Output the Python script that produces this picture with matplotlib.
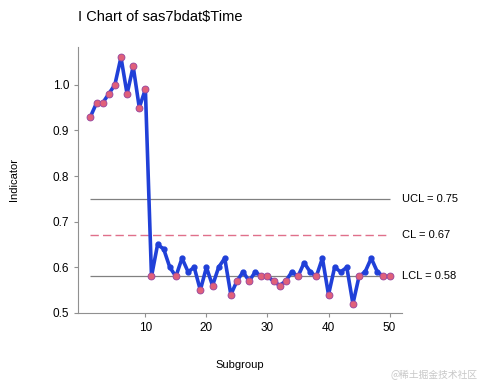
import numpy as np
import matplotlib
matplotlib.use("Agg")
import matplotlib.pyplot as plt

# I chart data
subgroup = np.arange(1, 51)
values = [0.93, 0.96, 0.96, 0.98, 1.00, 1.06, 0.98, 1.04, 0.95, 0.99,
          0.58, 0.65, 0.64, 0.60, 0.58, 0.62, 0.59, 0.60, 0.55, 0.60,
          0.56, 0.60, 0.62, 0.54, 0.57, 0.59, 0.57, 0.59, 0.58, 0.58,
          0.57, 0.56, 0.57, 0.59, 0.58, 0.61, 0.59, 0.58, 0.62, 0.54,
          0.60, 0.59, 0.60, 0.52, 0.58, 0.59, 0.62, 0.59, 0.58, 0.58]
UCL = 0.75
CL = 0.67
LCL = 0.58

plt.rcParams['font.family'] = ['Liberation Sans', 'DejaVu Sans']

fig = plt.figure(figsize=(4.8, 3.84), dpi=100)
ax = fig.add_axes([0.163, 0.185, 0.674, 0.693])

vals = np.array(values)
ax.plot(subgroup, vals, color='#2040d8', lw=2.6, marker='o', ms=3.5, zorder=3)

# points on or outside the limits get pink markers
out = (vals <= LCL) | (vals >= UCL)
ax.plot(subgroup[out], vals[out], ls='none', marker='o', ms=5,
        mfc='#e0607a', mec='#9a4aa0', mew=0.6, zorder=4)

ax.hlines(UCL, 1, 50, color='#808080', lw=0.9, zorder=1)
ax.hlines(LCL, 1, 50, color='#808080', lw=0.9, zorder=1)
ax.hlines(CL, 1, 50, color='#e0708a', lw=1.0, linestyles=(0, (6, 3)), zorder=1)

ax.text(52, UCL, 'UCL = 0.75', va='center', ha='left', fontsize=8)
ax.text(52, CL, 'CL = 0.67', va='center', ha='left', fontsize=8)
ax.text(52, LCL, 'LCL = 0.58', va='center', ha='left', fontsize=8)

ax.set_xlim(-1, 52)
ax.set_ylim(0.5, 1.083)
ax.set_xticks([10, 20, 30, 40, 50])
ax.set_yticks([0.5, 0.6, 0.7, 0.8, 0.9, 1.0])
ax.set_yticklabels(['0.5', '0.6', '0.7', '0.8', '0.9', '1.0'])

for s in ['top', 'right']:
    ax.spines[s].set_visible(False)
for s in ['left', 'bottom']:
    ax.spines[s].set_color('#909090')
ax.tick_params(colors='#909090', labelcolor='black', labelsize=8.5, length=3)

ax.set_xlabel('Subgroup', fontsize=8, labelpad=19)
ax.set_ylabel('Indicator', fontsize=8, labelpad=24)

fig.text(78 / 480, 1 - 17 / 384, 'I Chart of sas7bdat$Time', fontsize=10.5,
         ha='left', va='center')
fig.text(0.995, 0.022, '@稀土掘金技术社区', fontsize=7, color='#c8c8c8',
         ha='right', va='center', family=['Noto Sans CJK SC', 'DejaVu Sans'])

fig.savefig('out.png', dpi=100)
